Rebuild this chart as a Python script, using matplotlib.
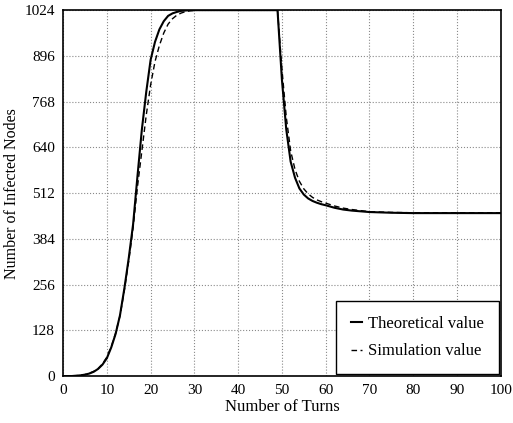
import numpy as np
import matplotlib
matplotlib.use('Agg')
import matplotlib.pyplot as plt

plt.rcParams['font.family'] = ['Liberation Serif', 'DejaVu Serif']

# Theoretical curve (turn, infected nodes)
theo_turns = [0, 1, 2, 3, 4, 5, 6, 7, 8, 9, 10, 11, 12, 13, 14, 15, 16, 17, 18, 19,
              20, 21, 22, 23, 24, 25, 26, 27, 28, 29, 30, 40, 49, 50, 51, 52, 53, 54,
              55, 56, 57, 58, 59, 60, 62, 64, 66, 68, 70, 75, 80, 90, 100]
theo_nodes = [0, 0, 0, 1, 2, 4, 7, 12, 20, 32, 50, 80, 118, 170, 245, 330, 425, 560, 690, 795,
              885, 935, 970, 993, 1008, 1015, 1019, 1022, 1023, 1024, 1024, 1024, 1024, 830, 690, 600, 555, 525,
              508, 497, 490, 485, 481, 478, 471, 466, 463, 461, 459, 457, 456, 456, 456]

# Simulation curve
sim_turns = [0, 1, 2, 3, 4, 5, 6, 7, 8, 9, 10, 11, 12, 13, 14, 15, 16, 17, 18, 19,
             20, 21, 22, 23, 24, 25, 26, 27, 28, 29, 30, 31, 40, 49, 50, 51, 52, 53, 54,
             55, 56, 57, 58, 59, 60, 62, 64, 66, 68, 70, 75, 80, 90, 100]
sim_nodes = [0, 0, 0, 1, 2, 4, 8, 13, 21, 34, 53, 82, 120, 168, 240, 322, 415, 530, 630, 730,
             815, 880, 925, 960, 985, 1000, 1010, 1016, 1020, 1022, 1023, 1024, 1024, 1024, 860, 725, 630, 578, 545,
             524, 510, 500, 493, 488, 484, 476, 470, 466, 463, 460, 458, 457, 457, 457]

x_ticks = [0, 10, 20, 30, 40, 50, 60, 70, 80, 90, 100]
y_ticks = [0, 128, 256, 384, 512, 640, 768, 896, 1024]

fig = plt.figure(figsize=(5.13, 4.23), dpi=100)
ax = fig.add_axes([0.123, 0.111, 0.853, 0.865])

ax.plot(theo_turns, theo_nodes, color='black', lw=1.5, ls='-', label='Theoretical value')
ax.plot(sim_turns, sim_nodes, color='black', lw=1.0, ls=(0, (4, 2.5)), label='Simulation value')

ax.set_xlim(0, 100)
ax.set_ylim(0, 1024)
ax.set_xticks(x_ticks)
ax.set_yticks(y_ticks)
ax.tick_params(direction='in', length=0, labelsize=11, pad=6)
ax.grid(True, ls=':', color='#8a8a8a', lw=0.8)
for s in ax.spines.values():
    s.set_linewidth(1.2)

ax.set_xlabel('Number of Turns', fontsize=12, labelpad=1)
ax.set_ylabel('Number of Infected Nodes', fontsize=11.5, labelpad=3)

leg = ax.legend(loc='lower right', fontsize=12, frameon=True, fancybox=False,
                edgecolor='black', framealpha=1, borderaxespad=0.1,
                borderpad=0.9, labelspacing=0.7, handlelength=0.7, handletextpad=0.35)
leg.get_frame().set_linewidth(1.0)

fig.savefig('out.png', dpi=100)
